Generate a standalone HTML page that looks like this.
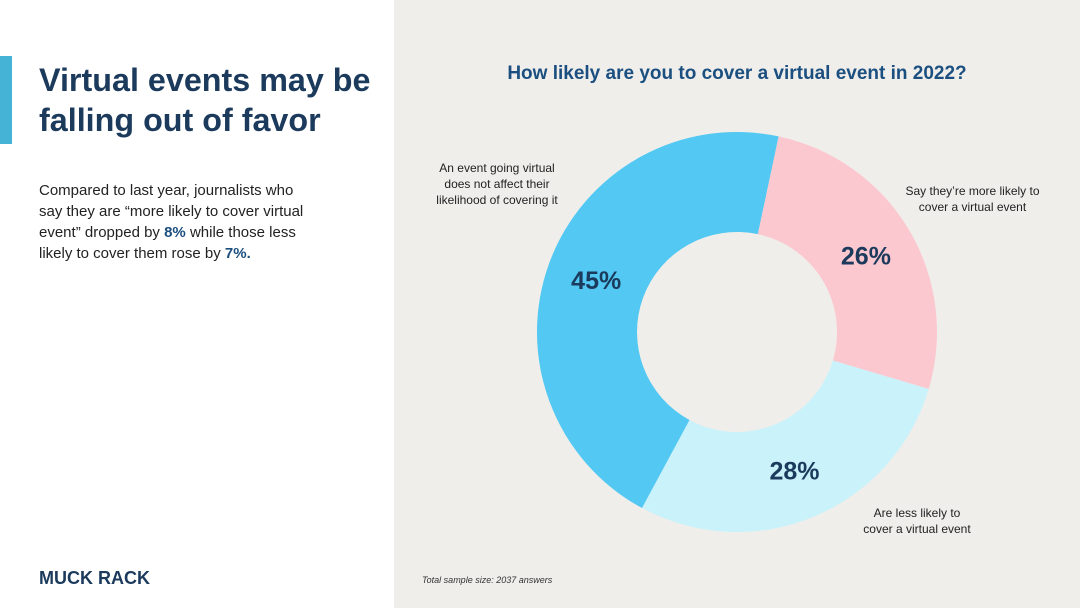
<!DOCTYPE html>
<html><head><meta charset="utf-8"><style>
body{margin:0;width:1080px;height:608px;overflow:hidden;font-family:"Liberation Sans",sans-serif;background:#fff;position:relative}
.left{position:absolute;left:0;top:0;width:394px;height:608px;background:#fff}
.right{position:absolute;left:394px;top:0;width:686px;height:608px;background:#efeeeb}
.bar{position:absolute;left:0;top:56px;width:12px;height:88px;background:#44b3d6}
h1{position:absolute;left:39px;top:60px;margin:0;font-size:32.3px;line-height:40px;color:#1b3a5c;font-weight:bold;white-space:nowrap}
p{position:absolute;left:39px;top:180px;margin:0;font-size:15px;line-height:21px;color:#222;width:272px}
b{color:#1b4f80}
.logo{position:absolute;left:39px;top:568px;font-size:18px;font-weight:bold;color:#1b3a5c}
.t{position:absolute;font-size:12px;color:#222;line-height:16px}
</style></head><body>
<div class="left">
<div class="bar"></div>
<h1>Virtual events may be<br>falling out of favor</h1>
<p>Compared to last year, journalists who say they are “more likely to cover virtual event” dropped by <b>8%</b> while those less likely to cover them rose by <b>7%.</b></p>
<div class="logo">MUCK RACK</div>
</div>
<div class="right"></div>
<div style="position:absolute;left:394px;top:63px;width:686px;text-align:center;font-size:19px;font-weight:bold;color:#1b4f80">How likely are you to cover a virtual event in 2022?</div>
<svg id="c" width="1080" height="608" style="position:absolute;left:0;top:0"></svg>
<div class="t" style="left:427px;top:160px;width:140px;text-align:center">An event going virtual does not affect their likelihood of covering it</div>
<div class="t" style="left:905px;top:183px;width:135px;text-align:center">Say they’re more likely to cover a virtual event</div>
<div class="t" style="left:859px;top:505px;width:116px;text-align:center">Are less likely to cover a virtual event</div>
<div style="position:absolute;left:422px;top:575px;font-size:9px;font-style:italic;color:#333">Total sample size: 2037 answers</div>
<script>
const categories=["More likely","Less likely","No effect"];
const values=[26,28,45];
const colors=["#fcc8cf","#caf2fa","#52c8f2"];
const cx=737,cy=332,R=200,r=100,start=12;
const svg=document.getElementById('c');
const tot=values.reduce((a,b)=>a+b,0);
let a=start;
function pt(ang,rad){const t=ang*Math.PI/180;return [cx+rad*Math.sin(t),cy-rad*Math.cos(t)];}
values.forEach((v,i)=>{
 const a2=a+v/tot*360;const lg=(a2-a)>180?1:0;
 const p1=pt(a,R),p2=pt(a2,R),p3=pt(a2,r),p4=pt(a,r);
 const p=document.createElementNS('http://www.w3.org/2000/svg','path');
 p.setAttribute('d',`M${p1}A${R},${R} 0 ${lg} 1 ${p2}L${p3}A${r},${r} 0 ${lg} 0 ${p4}Z`);
 p.setAttribute('fill',colors[i]);
 
 
 svg.appendChild(p);
 const m=pt((a+a2)/2,150);
 const t=document.createElementNS('http://www.w3.org/2000/svg','text');
 t.setAttribute('x',m[0]);t.setAttribute('y',m[1]+9);
 t.setAttribute('text-anchor','middle');t.setAttribute('font-size','25');t.setAttribute('font-weight','bold');
 t.setAttribute('font-family','Liberation Sans, sans-serif');t.setAttribute('fill','#1b3a5c');
 t.textContent=v+'%';
 
 
 svg.appendChild(t);
 a=a2;
});
</script>
</body></html>
